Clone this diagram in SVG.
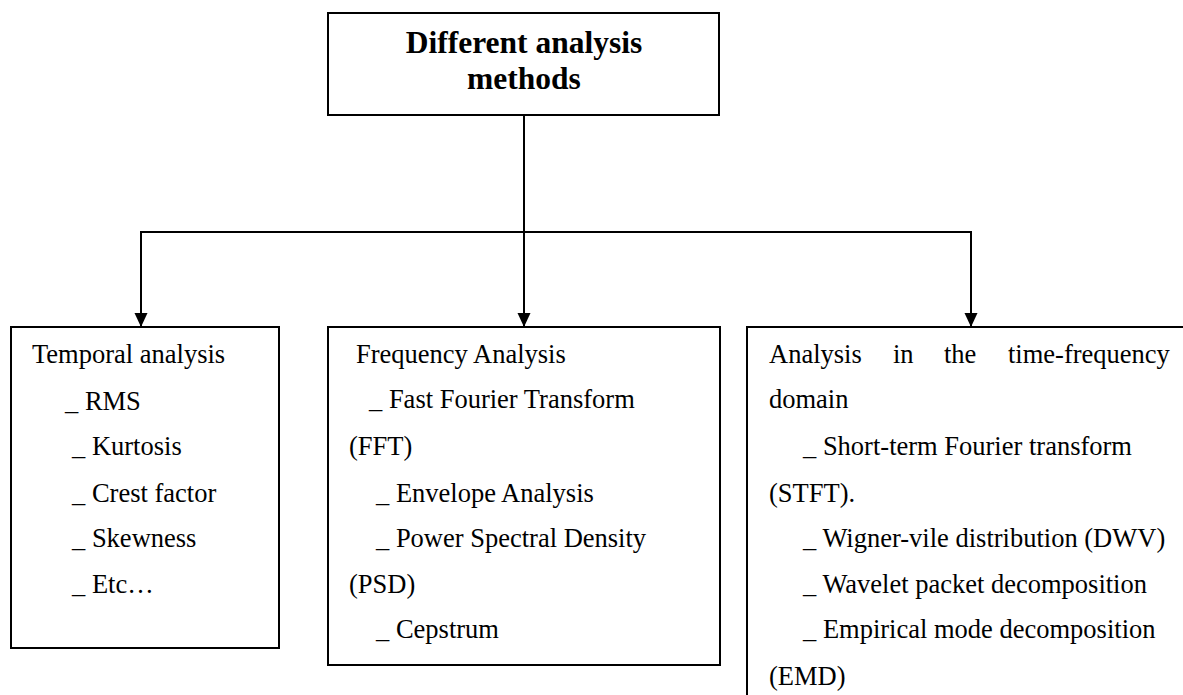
<svg xmlns="http://www.w3.org/2000/svg" width="1183" height="695" viewBox="0 0 1183 695">
  <style>
    .box { fill: #ffffff; stroke: #000000; stroke-width: 2; }
    .wire { fill: none; stroke: #000000; stroke-width: 2; }
    .title { font-family: "Liberation Serif", "Times New Roman", serif; font-size: 31.5px; font-weight: bold; fill: #000000; text-anchor: middle; }
    .body { font-family: "Liberation Serif", "Times New Roman", serif; font-size: 26.5px; fill: #000000; }
  </style>
  <defs>
    <marker id="arrow" markerUnits="userSpaceOnUse" markerWidth="14" markerHeight="15" refX="7" refY="14" orient="0" viewBox="0 0 14 15">
      <path d="M0.5,0 L13.5,0 L7,14 Z" fill="#000000"/>
    </marker>
  </defs>
  <rect width="1183" height="695" fill="#ffffff"/>

  <!-- connectors -->
  <g id="connectors">
    <path class="wire" d="M524,115 V327" marker-end="url(#arrow)"/>
    <path class="wire" d="M141,327 V232 H971 V327" marker-start="url(#arrow)" marker-end="url(#arrow)"/>
  </g>

  <!-- root node -->
  <g id="node-root">
    <rect class="box" x="328" y="13" width="391" height="102"/>
    <text class="title" x="524" y="53">Different analysis</text>
    <text class="title" x="524" y="89">methods</text>
  </g>

  <!-- temporal analysis -->
  <g id="node-temporal">
    <rect class="box" x="11" y="327" width="268" height="321"/>
    <text class="body" x="32" y="363">Temporal analysis</text>
    <text class="body" x="65" y="410">_ RMS</text>
    <text class="body" x="72" y="455">_ Kurtosis</text>
    <text class="body" x="72" y="502">_ Crest factor</text>
    <text class="body" x="72" y="547">_ Skewness</text>
    <text class="body" x="72" y="593">_ Etc…</text>
  </g>

  <!-- frequency analysis -->
  <g id="node-frequency">
    <rect class="box" x="328" y="327" width="392" height="338"/>
    <text class="body" x="356" y="363">Frequency Analysis</text>
    <text class="body" x="369" y="408">_ Fast Fourier Transform</text>
    <text class="body" x="349" y="455">(FFT)</text>
    <text class="body" x="376" y="502">_ Envelope Analysis</text>
    <text class="body" x="376" y="547">_ Power Spectral Density</text>
    <text class="body" x="349" y="593">(PSD)</text>
    <text class="body" x="376" y="638">_ Cepstrum</text>
  </g>

  <!-- time-frequency analysis -->
  <g id="node-timefrequency">
    <rect class="box" x="747" y="327" width="460" height="400"/>
    <text class="body" y="363"><tspan x="769">Analysis</tspan><tspan x="893">in</tspan><tspan x="944">the</tspan><tspan x="1008">time-frequency</tspan></text>
    <text class="body" x="769" y="408">domain</text>
    <text class="body" x="803" y="455">_ Short-term Fourier transform</text>
    <text class="body" x="769" y="502">(STFT).</text>
    <text class="body" x="803" y="547">_ Wigner-vile distribution (DWV)</text>
    <text class="body" x="803" y="593">_ Wavelet packet decomposition</text>
    <text class="body" x="803" y="638">_ Empirical mode decomposition</text>
    <text class="body" x="769" y="685">(EMD)</text>
  </g>
</svg>
